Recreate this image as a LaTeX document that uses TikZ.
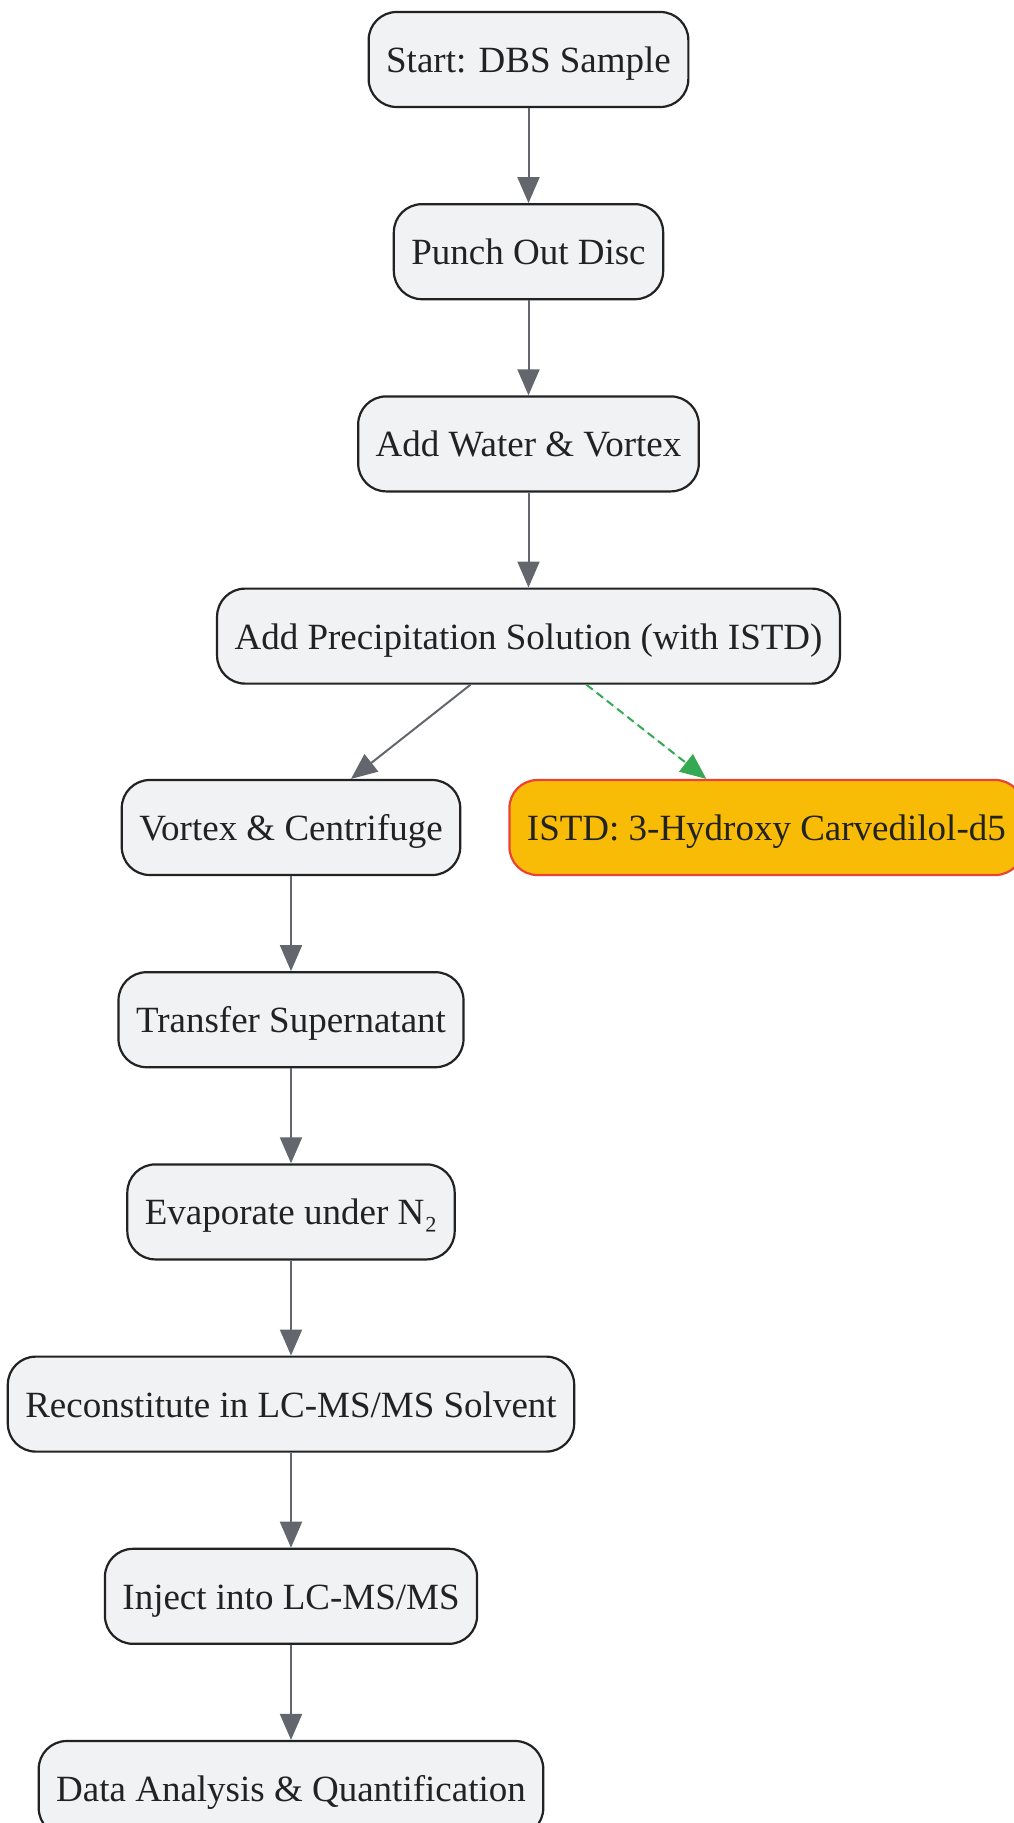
\documentclass[tikz,border=0pt]{standalone}
\usepackage{fontspec}
\setmainfont{Liberation Serif}
\usetikzlibrary{positioning}
\usetikzlibrary{arrows.meta}
\definecolor{boxfill}{HTML}{F1F2F4}
\definecolor{boxline}{HTML}{222222}
\definecolor{edgegray}{HTML}{63666C}
\definecolor{istdfill}{HTML}{F9BC06}
\definecolor{istdline}{HTML}{EA4335}
\definecolor{istdedge}{HTML}{34A853}

\begin{document}
\begin{tikzpicture}[x=1pt, y=-1pt, node distance=95pt,
    stepbox/.style={draw=boxline, fill=boxfill, line width=2.2pt, rounded corners=28pt,
      minimum height=95pt, inner xsep=17.5pt, text=boxline,
      text height=30pt, text depth=4pt,
      font=\fontsize{37}{44}\selectfont},
    istdbox/.style={stepbox, draw=istdline, fill=istdfill},
    flow/.style={draw=edgegray, line width=2pt, -{Triangle[length=26pt, width=22pt]}},
    istdflow/.style={flow, draw=istdedge, fill=istdedge, dash pattern=on 8pt off 5pt}]
  \useasboundingbox (0,0) rectangle (1014,1823);

  \node[stepbox] (start) at (528.5, 59.5) {Start: DBS Sample};
  \node[stepbox, below=of start] (punch) {Punch Out Disc};
  \node[stepbox, below=of punch] (water) {Add Water \& Vortex};
  \node[stepbox, below=of water] (prec) {Add Precipitation Solution (with ISTD)};
  \node[stepbox] (vort) at (291, 827.5) {Vortex \& Centrifuge};
  \node[istdbox, right=47pt of vort] (istd) {ISTD: 3-Hydroxy Carvedilol-d5};
  \node[stepbox, below=of vort] (trans) {Transfer Supernatant};
  \node[stepbox, below=of trans] (evap) {Evaporate under N₂};
  \node[stepbox, below=of evap] (recon) {Reconstitute in LC-MS/MS Solvent};
  \node[stepbox, below=of recon] (inject) {Inject into LC-MS/MS};
  \node[stepbox, below=of inject] (data) {Data Analysis \& Quantification};

  \draw[flow] (start) -- (punch);
  \draw[flow] (punch) -- (water);
  \draw[flow] (water) -- (prec);
  \draw[flow] ([xshift=-58pt]prec.south) -- ([xshift=60pt]vort.north);
  \draw[istdflow] ([xshift=58pt]prec.south) -- ([xshift=-60pt]istd.north);
  \draw[flow] (vort) -- (trans);
  \draw[flow] (trans) -- (evap);
  \draw[flow] (evap) -- (recon);
  \draw[flow] (recon) -- (inject);
  \draw[flow] (inject) -- (data);
\end{tikzpicture}
\end{document}
